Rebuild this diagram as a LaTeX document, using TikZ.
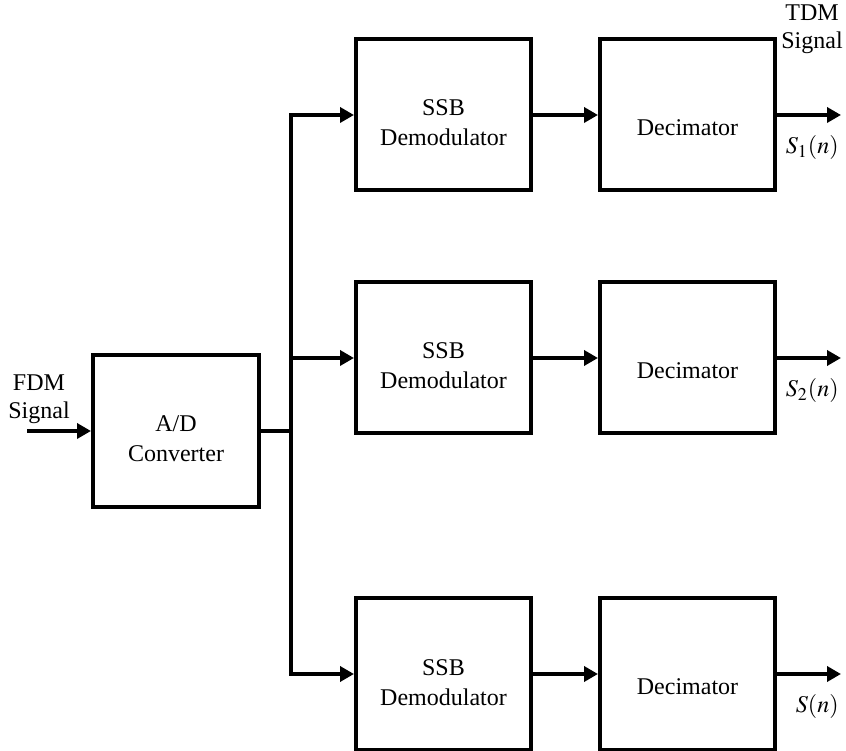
\documentclass[tikz,border=0pt]{standalone}
\usepackage{mathptmx}
\usepackage[no-math]{fontspec}
\setmainfont{Liberation Serif}
\usetikzlibrary{arrows.meta, positioning}

\begin{document}
\begin{tikzpicture}[
    x=1pt, y=1pt,
    node distance=32.5pt,
    block/.style={rectangle, draw, line width=2pt, minimum width=87.5pt, minimum height=75.5pt, align=center, text height=31pt, text depth=0pt, font=\fontsize{12}{15}\selectfont},
    signal/.style={-{Triangle[length=7pt, width=7.5pt]}, line width=2pt},
    wire/.style={line width=2pt},
    lbl/.style={font=\fontsize{12}{14}\selectfont, align=center, inner sep=1pt}
]
\useasboundingbox (0,0) rectangle (423,375);

% converter and the three channels
\node[block, minimum width=83pt, minimum height=76pt] (adc) at (88,159.5) {A/D\\Converter};
\node[block] (ssbA) at (221.75,317.5) {SSB\\Demodulator};
\node[block] (ssbB) at (221.75,196) {SSB\\Demodulator};
\node[block] (ssbC) at (221.75,38) {SSB\\Demodulator};
\node[block, right=of ssbA, text height=21pt] (decA) {Decimator};
\node[block, right=of ssbB, text height=21pt] (decB) {Decimator};
\node[block, right=of ssbC, text height=21pt] (decC) {Decimator};

% input and bus
\coordinate (fdmin) at (13.5,159.5);
\coordinate (bus) at (145.5,159.5);
\node[lbl, anchor=south] (fdm) at (19.5,162) {FDM\\Signal};
\draw[signal] (fdmin) -- (adc);
\draw[wire] (adc) -- (bus);
\draw[signal] (bus) |- (ssbA);
\draw[signal] (bus |- ssbB) -- (ssbB);
\draw[signal] (bus) |- (ssbC);

% channel links
\draw[signal] (ssbA) -- (decA);
\draw[signal] (ssbB) -- (decB);
\draw[signal] (ssbC) -- (decC);

% outputs
\coordinate (outA) at ([xshift=32pt]decA.east);
\coordinate (outB) at ([xshift=32pt]decB.east);
\coordinate (outC) at ([xshift=32pt]decC.east);
\node[lbl, anchor=north] (tdm) at (406,374) {TDM\\Signal};
\draw[signal] (decA) -- (outA);
\draw[signal] (decB) -- (outB);
\draw[signal] (decC) -- (outC);
\node[lbl, anchor=north east] (sA) at ([yshift=-9pt]outA) {$S_1(n)$};
\node[lbl, anchor=north east] (sB) at ([yshift=-9pt]outB) {$S_2(n)$};
\node[lbl, anchor=north east] (sC) at ([yshift=-9pt]outC) {$S(n)$};

\end{tikzpicture}
\end{document}
